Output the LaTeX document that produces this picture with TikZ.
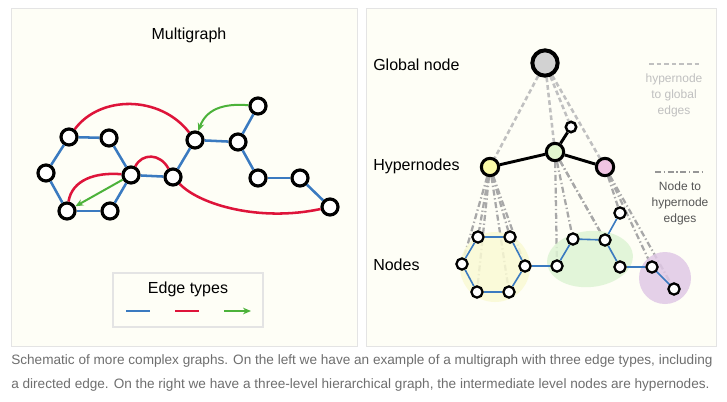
\documentclass[tikz,border=0pt]{standalone}
\usepackage{fontspec}
\setmainfont{Liberation Sans}
\usetikzlibrary{arrows.meta}
\pgfdeclarelayer{back}
\pgfsetlayers{back,main}

\definecolor{paper}{RGB}{254,254,246}
\definecolor{frame}{RGB}{228,228,228}
\definecolor{eblue}{RGB}{58,122,192}
\definecolor{ered}{RGB}{222,20,58}
\definecolor{egreen}{RGB}{76,178,58}
\definecolor{lightgrey}{RGB}{192,192,192}
\definecolor{midgrey}{RGB}{168,168,168}

\tikzset{
  panel/.style={draw=frame,fill=paper,line width=0.75pt},
  mnode/.style={circle,draw=black,fill=white,line width=2.4pt,minimum size=12pt,inner sep=0pt},
  snode/.style={circle,draw=black,fill=white,line width=1.7pt,minimum size=8.4pt,inner sep=0pt},
  hnode/.style={circle,draw=black,line width=2.3pt,minimum size=13pt,inner sep=0pt},
  blueedge/.style={draw=eblue,line width=1.9pt},
  thinblue/.style={draw=eblue,line width=1.2pt},
  rededge/.style={draw=ered,line width=1.9pt},
  greenedge/.style={draw=egreen,line width=1.5pt,-{Stealth[length=6pt,width=5pt]}},
  globaledge/.style={draw=lightgrey,line width=1.9pt,dash pattern=on 3.5pt off 2.2pt},
  hyperedge/.style={draw=midgrey,line width=1.7pt,dash pattern=on 4.5pt off 2pt on 1pt off 2pt},
  label/.style={inner sep=0.75pt,font=\fontsize{12pt}{14pt}\selectfont},
  caption/.style={anchor=west,inner sep=0pt,text={rgb,255:red,110;green,110;blue,110},font=\fontsize{10.2pt}{12pt}\selectfont},
}

\begin{document}
\begin{tikzpicture}[x=0.75pt,y=0.75pt,yscale=-1,xscale=1]
\useasboundingbox (0,0) rectangle (727,401);

%Shape: Panels
\begin{pgfonlayer}{back}
\draw [panel] (11,8) rectangle (357,346);
\draw [panel] (366,8) rectangle (716,346);
\end{pgfonlayer}

% ---------- Multigraph ----------
% Text Node
\node [label] (mtitle) at (189,35) {Multigraph};

\node [mnode] (m1) at (69,137) {};
\node [mnode] (m2) at (109,138) {};
\node [mnode] (m3) at (46,173) {};
\node [mnode] (m4) at (131,175) {};
\node [mnode] (m5) at (67,211) {};
\node [mnode] (m6) at (110,211) {};
\node [mnode] (m7) at (173,177) {};
\node [mnode] (m8) at (195,140) {};
\node [mnode] (m9) at (238,142) {};
\node [mnode] (m10) at (258,106) {};
\node [mnode] (m11) at (258,178) {};
\node [mnode] (m12) at (300,178) {};
\node [mnode] (m13) at (330,207) {};

%Straight Lines
\foreach \s/\t in {m1/m2,m1/m3,m3/m5,m5/m6,m6/m4,m2/m4,m4/m7,m7/m8,m8/m9,m9/m10,m9/m11,m11/m12,m12/m13}
  \draw [blueedge] (\s) -- (\t);

%Curve Lines
\draw [rededge] (m1) .. controls (100,95) and (160,95) .. (m8);
\draw [rededge] (m5) .. controls (72,180) and (95,172) .. (m4);
\draw [rededge] (m4) .. controls (142,153) and (160,153) .. (m7);
\draw [rededge] (m7) .. controls (200,205) and (260,222) .. (m13);
\draw [greenedge] (m10) .. controls (222,103) and (206,110) .. (m8);
\draw [greenedge] (m4) -- (m5);

%Shape: Legend
\draw [draw=frame,line width=0.9pt] (113,273) rectangle (263,327);
% Text Node
\node [label] (ltitle) at (188,289) {Edge types};
\coordinate (lb1) at (126,311); \coordinate (lb2) at (150,311);
\coordinate (lr1) at (175,311); \coordinate (lr2) at (199,311);
\coordinate (lg1) at (224,311); \coordinate (lg2) at (251,311);
\draw [blueedge] (lb1) -- (lb2);
\draw [rededge] (lr1) -- (lr2);
\draw [greenedge] (lg1) -- (lg2);

% ---------- Hierarchical graph ----------
% Text Node
\node [label,anchor=west] (tglobal) at (372,65) {Global node};
\node [label,anchor=west] (thyper) at (372,166) {Hypernodes};
\node [label,anchor=west] (tnodes) at (372,265) {Nodes};

%Shape: Ellipses
\fill [fill={rgb,255:red,250;green,250;blue,212},fill opacity=0.85] (495,267) ellipse [x radius=35,y radius=35];
\fill [fill={rgb,255:red,222;green,244;blue,212},fill opacity=0.85,rotate around={-6:(590,259)}] (590,259) ellipse [x radius=43,y radius=28];
\fill [fill={rgb,255:red,224;green,200;blue,230},fill opacity=0.85] (665,278) ellipse [x radius=26,y radius=26];

\node [hnode,line width=3pt,minimum size=19pt,fill={rgb,255:red,210;green,210;blue,210}] (hglob) at (545,63) {};
\node [hnode,fill={rgb,255:red,250;green,250;blue,168}] (hyel) at (490,167) {};
\node [hnode,fill={rgb,255:red,226;green,246;blue,206}] (hgrn) at (555,152) {};
\node [hnode,fill={rgb,255:red,240;green,196;blue,226}] (hpnk) at (605,167) {};
\node [hnode,fill=white,line width=1.9pt,minimum size=7.8pt] (hsml) at (571,127) {};

\node [snode] (n1) at (462,264) {};
\node [snode] (n2) at (478,237) {};
\node [snode] (n3) at (510,237) {};
\node [snode] (n4) at (525,266) {};
\node [snode] (n5) at (509,292) {};
\node [snode] (n6) at (477,292) {};
\node [snode] (n7) at (557,266) {};
\node [snode] (n8) at (573,239) {};
\node [snode] (n9) at (605,240) {};
\node [snode] (n10) at (620,213) {};
\node [snode] (n11) at (620,267) {};
\node [snode] (n12) at (652,267) {};
\node [snode] (n13) at (674,289) {};

%Straight Lines
\foreach \s/\t in {hyel/hgrn,hgrn/hpnk,hgrn/hsml}
  \draw [black,line width=2.2pt] (\s) -- (\t);
\foreach \s/\t in {n1/n2,n2/n3,n3/n4,n4/n5,n5/n6,n6/n1,n4/n7,n7/n8,n8/n9,n9/n10,n9/n11,n11/n12,n12/n13}
  \draw [thinblue] (\s) -- (\t);

\begin{pgfonlayer}{back}
\foreach \t in {hyel,hgrn,hsml,hpnk}
  \draw [globaledge] (hglob) -- (\t);
\foreach \t in {n1,n2,n3,n4,n5,n6}
  \draw [hyperedge] (hyel) -- (\t);
\foreach \t in {n7,n8,n9,n11}
  \draw [hyperedge] (hgrn) -- (\t);
\foreach \t in {n10,n12,n13}
  \draw [hyperedge] (hpnk) -- (\t);
\end{pgfonlayer}

%Legend
\coordinate (kd1) at (649,64); \coordinate (kd2) at (700,64);
\draw [globaledge] (kd1) -- (kd2);
\node [inner sep=0.75pt,align=center,text=lightgrey,font=\fontsize{9pt}{12pt}\selectfont] (kdtext) at (674,95) {hypernode\\to global\\edges};
\coordinate (kh1) at (655,172); \coordinate (kh2) at (705,172);
\draw [hyperedge,draw={rgb,255:red,150;green,150;blue,150}] (kh1) -- (kh2);
\node [inner sep=0.75pt,align=center,text={rgb,255:red,85;green,85;blue,85},font=\fontsize{9pt}{12pt}\selectfont] (khtext) at (680,203) {Node to\\hypernode\\edges};

% Caption
\node [caption] (cap1) at (11,361) {Schematic of more complex graphs. On the left we have an example of a multigraph with three edge types, including};
\node [caption] (cap2) at (11,385) {a directed edge. On the right we have a three-level hierarchical graph, the intermediate level nodes are hypernodes.};
\end{tikzpicture}
\end{document}
